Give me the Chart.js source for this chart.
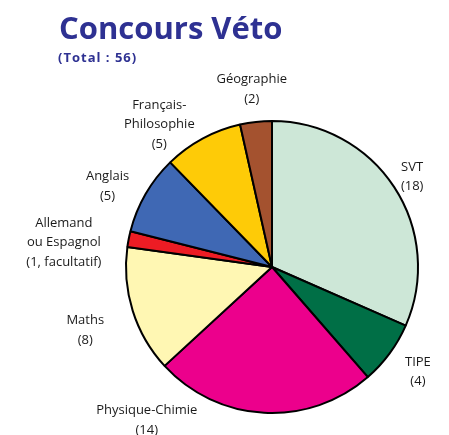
<!DOCTYPE html>
<html>
<head>
<meta charset="utf-8">
<script src="https://cdn.jsdelivr.net/npm/chart.js@4"></script>
<style>
  html, body { margin: 0; padding: 0; background: #fff; }
  #c { display: block; }
</style>
</head>
<body>
<canvas id="c" width="449" height="435"></canvas>
<script>
// subjects, clockwise from 12 o'clock
const subjects = ['SVT', 'TIPE', 'Physique-Chimie', 'Maths', 'Allemand ou Espagnol', 'Anglais', 'Français-Philosophie', 'Géographie'];
const coefficients = [18, 4, 14, 8, 1, 5, 5, 2];
const labelLines = [
  ['SVT', '(18)'],
  ['TIPE', '(4)'],
  ['Physique-Chimie', '(14)'],
  ['Maths', '(8)'],
  ['Allemand', 'ou Espagnol', '(1, facultatif)'],
  ['Anglais', '(5)'],
  ['Français-', 'Philosophie', '(5)'],
  ['Géographie', '(2)']
];
const sliceColors = ['#cde7d7', '#006f46', '#ec008c', '#fff7b3', '#ed1c24', '#3f68b4', '#fecb07', '#a4522f'];

// label placement: angle shift (deg) and distance as a fraction of the radius
const labelShift = [-1, -2, 37, 0, -3, -2.5, -9, 0];
const labelDist = [1.16, 1.21, 1.33, 1.34, 1.44, 1.27, 1.27, 1.26];

const FONT = '"Open Sans", "DejaVu Sans", sans-serif';

const textPlugin = {
  id: 'texts',
  afterDraw(chart) {
    const ctx = chart.ctx;
    ctx.save();
    ctx.fillStyle = '#2e3192';
    ctx.textAlign = 'left';
    ctx.textBaseline = 'alphabetic';
    ctx.font = 'bold 31px ' + FONT;
    ctx.fillText('Concours Véto', 59, 39);
    ctx.font = 'bold 13px ' + FONT;
    ctx.letterSpacing = '1px';
    ctx.fillText('(Total : 56)', 58, 62);
    ctx.letterSpacing = '0px';

    const arcs = chart.getDatasetMeta(0).data;
    ctx.fillStyle = '#1a1a1a';
    ctx.font = '13px ' + FONT;
    ctx.textAlign = 'center';
    ctx.textBaseline = 'middle';
    arcs.forEach((arc, i) => {
      const p = arc.getProps(['x', 'y', 'startAngle', 'endAngle', 'outerRadius'], true);
      const mid = (p.startAngle + p.endAngle) / 2 + labelShift[i] * Math.PI / 180;
      const d = p.outerRadius * labelDist[i];
      const lx = p.x + Math.cos(mid) * d;
      const ly = p.y + Math.sin(mid) * d + 5;
      const lines = labelLines[i];
      const lh = 19.5;
      lines.forEach((t, k) => {
        ctx.fillText(t, lx, ly + (k - (lines.length - 1) / 2) * lh);
      });
    });
    ctx.restore();
  }
};

new Chart(document.getElementById('c'), {
  type: 'pie',
  data: {
    labels: subjects,
    datasets: [{
      data: coefficients,
      backgroundColor: sliceColors,
      borderColor: '#000',
      borderWidth: 2,
      borderAlign: 'center'
    }]
  },
  options: {
    responsive: false,
    animation: false,
    layout: { padding: { left: 125, right: 30, top: 120, bottom: 21 } },
    plugins: {
      legend: { display: false },
      tooltip: { enabled: false }
    }
  },
  plugins: [textPlugin]
});
</script>
</body>
</html>
